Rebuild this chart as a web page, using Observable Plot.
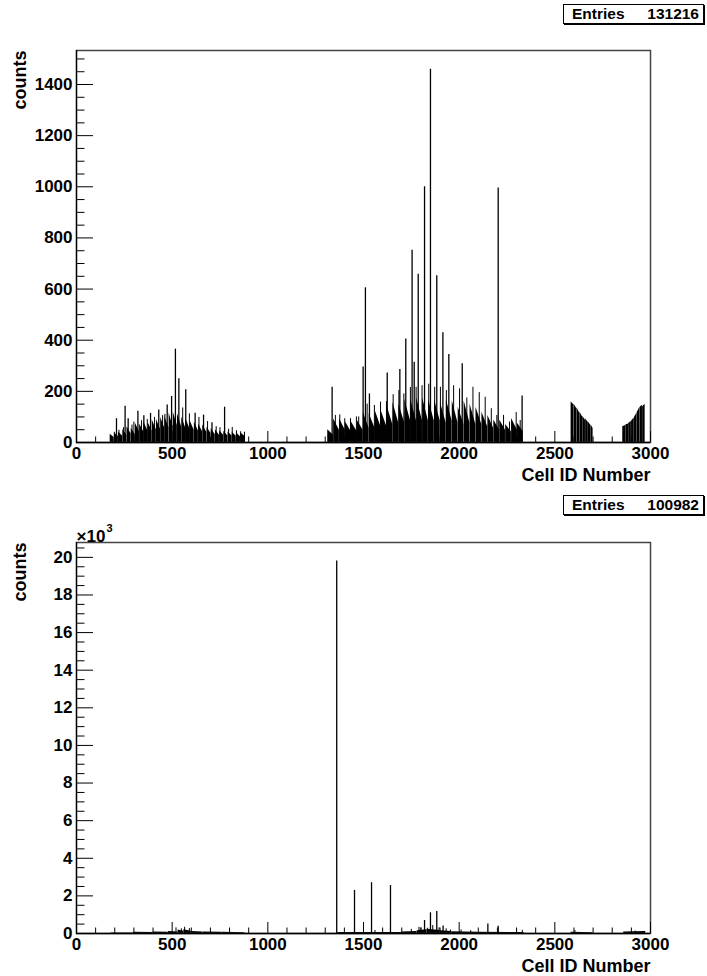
<!DOCTYPE html>
<html><head><meta charset="utf-8">
<script src="https://cdn.jsdelivr.net/npm/d3@7"></script>
<script src="https://cdn.jsdelivr.net/npm/@observablehq/plot@0.6"></script>
<style>
body{margin:0;background:#fff;}
#wrap{position:relative;width:707px;height:976px;font-family:"Liberation Sans",Arial,Helvetica,sans-serif;font-weight:bold;}
#wrap svg{display:block;}
.stats{position:absolute;box-sizing:border-box;left:563px;width:141px;height:20px;border:1px solid #000;box-shadow:1px 1px 0 #000;background:#fff;font-size:15.5px;display:flex;justify-content:space-between;align-items:center;padding:0 4px 0 8px;line-height:1;}
</style></head><body><div id="wrap"></div>
<script>
// ---- axis tick values / labels ----
const xMajor = [0, 500, 1000, 1500, 2000, 2500, 3000];
const topYMajor = [0, 200, 400, 600, 800, 1000, 1200, 1400];
const topYLabels = ["0", "200", "400", "600", "800", "1000", "1200", "1400"];
const botYMajor = [0, 2000, 4000, 6000, 8000, 10000, 12000, 14000, 16000, 18000, 20000];
const botYLabels = ["0", "2", "4", "6", "8", "10", "12", "14", "16", "18", "20"];
const entries = ["131216", "100982"];

// ---- top histogram: dense body segments [cellStart, cellEnd, countStart, countEnd] ----
const topTeeth = [
  [176,197,32,20],[198,219,36,24],[220,241,40,25],[242,263,50,28],[264,285,62,34],[286,307,56,30],
  [308,329,75,42],[330,351,72,42],[352,373,80,45],[374,395,78,45],[396,417,88,50],[418,439,90,52],
  [440,461,98,56],[462,483,102,58],[484,505,115,62],[506,527,118,66],[528,549,112,62],[550,571,100,56],
  [572,593,94,52],[594,615,85,48],[616,637,80,45],[638,659,72,42],[660,681,68,40],[682,703,60,35],
  [704,725,55,30],[726,747,50,28],[748,769,46,28],[770,791,44,25],[792,813,41,25],[814,835,40,24],
  [836,857,38,22],[858,880,37,24],
  [1313,1343,50,28],[1344,1374,92,48],[1375,1405,92,48],[1406,1436,80,42],[1437,1467,80,42],
  [1468,1498,86,48],[1499,1529,118,56],[1530,1560,112,56],[1561,1591,125,62],[1592,1622,125,62],
  [1623,1653,144,70],[1654,1684,156,76],[1685,1715,150,76],[1716,1746,168,84],[1747,1777,168,84],
  [1778,1808,175,84],[1809,1839,175,84],[1840,1870,168,84],[1871,1901,168,84],[1902,1932,156,76],
  [1933,1963,168,84],[1964,1994,162,76],[1995,2025,138,70],[2026,2056,162,76],[2057,2087,150,70],
  [2088,2118,138,70],[2119,2149,118,62],[2150,2180,106,56],[2181,2211,88,48],[2212,2242,88,48],
  [2243,2273,70,42],[2274,2304,94,48],[2305,2335,75,42],
  [2585,2600,158,148],[2601,2615,150,132],[2616,2630,135,115],[2631,2645,118,100],[2646,2660,102,88],
  [2661,2675,92,78],[2676,2690,80,65],[2691,2700,66,55],
  [2855,2870,62,66],[2871,2885,68,72],[2886,2900,74,82],[2901,2915,84,96],[2916,2930,98,115],
  [2931,2945,118,138],[2946,2958,138,146],[2959,2972,140,150]
];
// tooth-peak lines [cell, count]
const topComb = [
  [198,40],[222,48],[246,58],[290,68],[300,80],[340,85],[370,90],[408,98],[450,105],[462,110],
  [555,135],[590,112],[640,98],[685,82],[730,62],[750,58],[795,52],[814,59],[836,46],[858,42],[878,40],
  [1353,106],[1376,108],[1402,93],[1432,93],[1463,100],[1475,100],[1519,150],[1557,145],[1589,158],
  [1620,160],[1655,187],[1685,203],[1711,190],[1745,215],[1775,216],[1806,222],[1841,228],[1872,216],
  [1902,216],[1933,203],[1971,222],[2002,210],[2040,174],[2072,216],[2105,195],[2136,177],[2168,132],
  [2197,106],[2232,106],[2263,80],[2298,117],[2319,86]
];
// tall single-cell spikes [cell, count]
const topSpikes = [
  [209,93],[254,142],[270,93],[321,122],[352,105],[387,114],[430,127],[474,147],[497,180],[517,365],
  [535,249],[571,206],[620,114],[664,107],[708,77],[774,138],
  [1336,216],[1498,295],[1510,605],[1531,190],[1624,272],[1690,285],[1721,405],[1754,752],[1765,314],
  [1786,658],[1819,1000],[1850,1460],[1883,652],[1915,429],[1946,344],[2016,308],[2204,995],[2329,182]
];

// ---- bottom histogram ----
const botTeeth = [
  [180,300,25,25],[300,400,60,50],[401,480,80,60],[481,530,100,80],[531,560,180,120],[561,600,200,120],
  [601,660,110,80],[661,760,80,60],[761,880,60,40],
  [1365,1700,50,50],[1701,1780,80,110],[1781,1830,150,200],[1831,1900,220,160],[1901,1960,150,100],
  [1961,2100,90,70],[2101,2340,70,50],[2585,2700,60,40],[2860,2975,80,100]
];
const botComb = [
  [520,300],[548,250],[565,330],[590,260],[1560,160],[1750,220],[1790,330],[1800,300],[1835,280],
  [1862,420],[1895,300],[1932,250],[1955,180],[2010,190],[2060,150],[2330,170],[2605,150],[2920,130]
];
const botSpikes = [
  [1360,19800],[1453,2290],[1542,2700],[1641,2550],[1819,690],[1850,1100],[1883,1170],[1916,400],
  [2150,510],[2204,390]
];

const FONT = '"Liberation Sans", Arial, Helvetica, sans-serif';

function panel({height, marginTop, marginBottom, yMax, yMajor, yLabels, yMinorStep, teeth, comb, spikes, exponent}) {
  const xMinor = d3.range(100, 3000, 100).filter(v => v % 500 !== 0);
  const yMinor = d3.range(yMinorStep, yMax, yMinorStep).filter(v => !yMajor.includes(v));
  const pts = teeth.flatMap((t, i) => [{id: i, x: t[0], y: t[2]}, {id: i, x: t[1], y: t[3]}]);
  const marks = [
    Plot.areaY(pts, {x: "x", y1: 0, y2: "y", z: "id", fill: "#000", curve: "linear"}),
    Plot.ruleX(comb, {x: d => d[0], y1: 0, y2: d => d[1], stroke: "#000", strokeWidth: 1}),
    Plot.ruleX(spikes, {x: d => d[0], y1: 0, y2: d => d[1], stroke: "#000", strokeWidth: 1.3}),
    Plot.frame({stroke: "#444", strokeWidth: 1.5}),
    Plot.ruleX([0], {stroke: "#000", strokeWidth: 1.2}),
    Plot.ruleY([0], {stroke: "#000", strokeWidth: 1.5}),
    Plot.ruleY(yMajor, {y: d => d, x1: 0, x2: 0, insetRight: -17, stroke: "#000"}),
    Plot.ruleY(yMinor, {y: d => d, x1: 0, x2: 0, insetRight: -8.5, stroke: "#000"}),
    Plot.ruleX(xMajor, {x: d => d, y1: 0, y2: 0, insetTop: -11, stroke: "#000"}),
    Plot.ruleX(xMinor, {x: d => d, y1: 0, y2: 0, insetTop: -5.5, stroke: "#000"}),
    Plot.text(yMajor, {x: 0, y: d => d, text: (d, i) => yLabels[i], textAnchor: "end", dx: -4, fontSize: 17, fontWeight: "bold"}),
    Plot.text(xMajor, {x: d => d, y: 0, text: d => String(d), lineAnchor: "bottom", dy: 16.5, fontSize: 17, fontWeight: "bold"}),
    Plot.text(["counts"], {frameAnchor: "top-left", text: d => d, rotate: -90, textAnchor: "end", lineAnchor: "bottom", dx: -51, fontSize: 18, fontWeight: "bold"}),
    Plot.text(["Cell ID Number"], {frameAnchor: "bottom-right", text: d => d, textAnchor: "end", lineAnchor: "bottom", dy: 38.5, fontSize: 18, fontWeight: "bold"})
  ];
  if (exponent) {
    marks.push(
      Plot.text(["\u00d710"], {frameAnchor: "top-left", text: d => d, textAnchor: "start", lineAnchor: "bottom", dy: -1, fontSize: 17, fontWeight: "bold"}),
      Plot.text([exponent], {frameAnchor: "top-left", text: d => d, textAnchor: "start", lineAnchor: "bottom", dx: 30, dy: -11, fontSize: 11, fontWeight: "bold"})
    );
  }
  return Plot.plot({
    width: 707, height, marginLeft: 76, marginRight: 57, marginTop, marginBottom,
    x: {domain: [0, 3000], axis: null},
    y: {domain: [0, yMax], axis: null},
    style: {fontFamily: FONT, fontWeight: "bold", background: "#fff", overflow: "visible"},
    marks
  });
}

const wrap = document.getElementById("wrap");
wrap.appendChild(panel({height: 491, marginTop: 50, marginBottom: 49, yMax: 1533, yMajor: topYMajor, yLabels: topYLabels, yMinorStep: 50, teeth: topTeeth, comb: topComb, spikes: topSpikes}));
wrap.appendChild(panel({height: 485, marginTop: 51, marginBottom: 43, yMax: 20790, yMajor: botYMajor, yLabels: botYLabels, yMinorStep: 500, teeth: botTeeth, comb: botComb, spikes: botSpikes, exponent: "3"}));

[[4, entries[0]], [495, entries[1]]].forEach(([top, n]) => {
  const d = document.createElement("div");
  d.className = "stats";
  d.style.top = top + "px";
  d.innerHTML = "<span>Entries</span><span>" + n + "</span>";
  wrap.appendChild(d);
});
</script></body></html>
